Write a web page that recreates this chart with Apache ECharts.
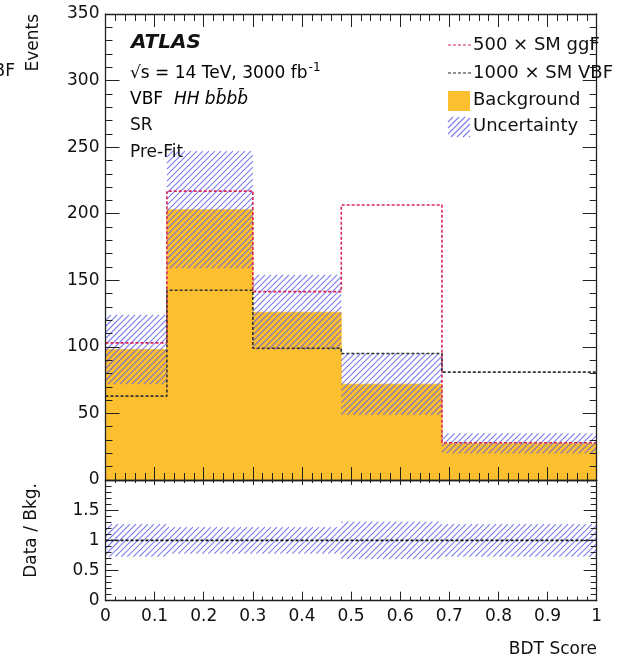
<!DOCTYPE html>
<html><head><meta charset="utf-8">
<script src="https://cdn.jsdelivr.net/npm/echarts@6/dist/echarts.min.js"></script>
<style>html,body{margin:0;padding:0;background:#fff}#c{width:620px;height:661px}</style>
</head><body><div id="c"></div>
<script>
// ---- data ----
const binEdges = [0, 0.125, 0.3, 0.48, 0.685, 1];
const background = [98, 203, 126, 72, 27.5];
const bkgUncertainty = [26, 44, 28, 23, 7.5];
const ggF500 = [103, 217, 141.5, 206.5, 28];
const vbf1000 = [63, 142.5, 99, 95, 81];
const ratioCentral = [1, 1, 1, 1, 1];
const ratioUncertainty = [0.27, 0.22, 0.22, 0.31, 0.27];
const mainYTicks = [0, 350, 50];
const ratioYTicks = [0, 2, 0.5];

// ---- styling helpers ----
const FONT = '"DejaVu Sans", "Liberation Sans", sans-serif';
const AX = '#222';
const ORANGE = '#fcbf2f';
const RED = '#d9245c';
const HATCH = '#5b5be6';
const HSTEP = 6;

// diagonal "/" hatch lines clipped to a pixel rectangle
function hatchLines(x0, y0, x1, y1, alpha) {
  const out = [];
  const cStart = Math.ceil((x0 + y0) / HSTEP) * HSTEP;
  for (let c = cStart; c <= x1 + y1; c += HSTEP) {
    const xa = Math.max(x0, c - y1), xb = Math.min(x1, c - y0);
    if (xb - xa > 0.3) {
      out.push({ type: 'line', shape: { x1: xa, y1: c - xa, x2: xb, y2: c - xb },
        style: { stroke: HATCH, lineWidth: 1.1, opacity: alpha } });
    }
  }
  return out;
}

const nb = background.length;
const bkgRects = background.map((v, i) => [binEdges[i], binEdges[i + 1], 0, v]);
const bandRects = background.map((v, i) => [binEdges[i], binEdges[i + 1], v - bkgUncertainty[i], v + bkgUncertainty[i]]);
const ratioRects = ratioCentral.map((v, i) => [binEdges[i], binEdges[i + 1], v - ratioUncertainty[i], v + ratioUncertainty[i]]);
function steps(vals) {
  const d = vals.map((v, i) => [binEdges[i], v]);
  d.push([binEdges[nb], vals[nb - 1]]);
  return d;
}
function solidRect(params, api) {
  const p0 = api.coord([api.value(0), api.value(3)]);
  const p1 = api.coord([api.value(1), api.value(2)]);
  return { type: 'rect', shape: { x: p0[0], y: p0[1], width: p1[0] - p0[0], height: p1[1] - p0[1] },
    style: { fill: ORANGE, stroke: ORANGE, lineWidth: 0.8 } };
}
function hatchRect(params, api) {
  const p0 = api.coord([api.value(0), api.value(3)]);
  const p1 = api.coord([api.value(1), api.value(2)]);
  return { type: 'group', children: hatchLines(p0[0], p0[1], p1[0], p1[1], 0.8) };
}

const GL = 105.5, GR = 620 - 596.7;
function xAx(grid, pos, showLabel, len, mlen) {
  return {
    type: 'value', gridIndex: grid, position: pos, min: 0, max: 1, interval: 0.1, z: 10,
    axisLine: { show: true, onZero: false, lineStyle: { color: AX, width: 1.3 } },
    axisTick: { show: true, inside: true, length: len, lineStyle: { color: AX, width: 1 } },
    minorTick: { show: true, splitNumber: 5, length: mlen, lineStyle: { color: AX, width: 1 } },
    splitLine: { show: false },
    axisLabel: { show: showLabel, color: '#111', fontFamily: FONT, fontSize: 17, margin: 7,
      formatter: v => String(+v.toFixed(1)) }
  };
}
function yAx(grid, pos, ticks, showLabel, len, mlen, fmt) {
  return {
    type: 'value', gridIndex: grid, position: pos, min: ticks[0], max: ticks[1], interval: ticks[2], z: 10,
    axisLine: { show: true, onZero: false, lineStyle: { color: AX, width: 1.3 } },
    axisTick: { show: true, inside: true, length: len, lineStyle: { color: AX, width: 1 } },
    minorTick: { show: true, splitNumber: 5, length: mlen, lineStyle: { color: AX, width: 1 } },
    splitLine: { show: false },
    axisLabel: { show: showLabel, color: '#111', fontFamily: FONT, fontSize: 17, margin: 6, formatter: fmt }
  };
}

const chart = echarts.init(document.getElementById('c'), null, { renderer: 'canvas' });
const txt = (x, y, text, extra) => ({
  type: 'text', x: x, y: y, z: 100,
  style: Object.assign({ text: text, font: '17px ' + FONT, fill: '#111', textAlign: 'left', align: 'left',
    textVerticalAlign: 'middle', verticalAlign: 'middle' }, extra || {})
});
const LEGF = '18px ' + FONT;

chart.setOption({
  animation: false,
  backgroundColor: '#fff',
  grid: [
    { left: GL, right: GR, top: 14, height: 466 },
    { left: GL, right: GR, top: 480, height: 120.7 }
  ],
  xAxis: [
    xAx(0, 'bottom', false, 13, 7),
    xAx(0, 'top', false, 13, 7),
    xAx(1, 'bottom', true, 9, 4),
    xAx(1, 'top', false, 5, 3)
  ],
  yAxis: [
    yAx(0, 'left', mainYTicks, true, 14, 7, v => String(v)),
    yAx(0, 'right', mainYTicks, false, 14, 7),
    yAx(1, 'left', ratioYTicks, true, 13, 6, v => (v === 2 ? '' : String(v))),
    yAx(1, 'right', ratioYTicks, false, 13, 6)
  ],
  series: [
    { type: 'custom', name: 'Background', xAxisIndex: 0, yAxisIndex: 0, z: 2,
      renderItem: solidRect, encode: { x: [0, 1], y: [2, 3] }, data: bkgRects },
    { type: 'custom', name: 'Uncertainty', xAxisIndex: 0, yAxisIndex: 0, z: 3,
      renderItem: hatchRect, encode: { x: [0, 1], y: [2, 3] }, data: bandRects },
    { type: 'line', name: '500 x SM ggF', xAxisIndex: 0, yAxisIndex: 0, z: 5, step: 'end', symbol: 'none',
      lineStyle: { color: RED, width: 1.6, type: [3, 2] }, data: steps(ggF500) },
    { type: 'line', name: '1000 x SM VBF', xAxisIndex: 0, yAxisIndex: 0, z: 6, step: 'end', symbol: 'none',
      lineStyle: { color: '#333', width: 1.6, type: [3, 2] }, data: steps(vbf1000) },
    { type: 'custom', name: 'Ratio uncertainty', xAxisIndex: 2, yAxisIndex: 2, z: 3,
      renderItem: hatchRect, encode: { x: [0, 1], y: [2, 3] }, data: ratioRects },
    { type: 'line', name: 'Ratio', xAxisIndex: 2, yAxisIndex: 2, z: 5, symbol: 'none',
      lineStyle: { color: '#111', width: 1.6, type: [3, 2] }, data: [[binEdges[0], 1], [binEdges[nb], 1]] }
  ],
  graphic: [
    // annotation
    txt(131, 43, 'ATLAS', { font: 'italic bold 20px ' + FONT }),
    {
      type: 'text', x: 130, y: 72, z: 100,
      style: { text: '{a|√s = 14 TeV, 3000 fb}{s|-1}', textVerticalAlign: 'middle', verticalAlign: 'middle',
        rich: { a: { fontFamily: FONT, fontSize: 17, color: '#111', verticalAlign: 'bottom' },
                s: { fontFamily: FONT, fontSize: 12, color: '#111', verticalAlign: 'bottom', padding: [0, 0, 8, 1] } } }
    },
    {
      type: 'text', x: 130, y: 100, z: 100,
      style: { text: '{a|VBF  }{i|HH bb\u0304bb\u0304}', textVerticalAlign: 'middle', verticalAlign: 'middle',
        rich: { a: { fontFamily: FONT, fontSize: 17, color: '#111' },
                i: { fontFamily: FONT, fontSize: 17, fontStyle: 'italic', color: '#111' } } }
    },
    txt(130, 126, 'SR'),
    txt(130, 153, 'Pre-Fit'),
    // legend
    { type: 'line', z: 100, shape: { x1: 448, y1: 45, x2: 471, y2: 45 }, style: { stroke: RED, lineWidth: 1, lineDash: [3, 2] } },
    { type: 'line', z: 100, shape: { x1: 448, y1: 73, x2: 471, y2: 73 }, style: { stroke: '#222', lineWidth: 1, lineDash: [3, 2] } },
    { type: 'rect', z: 100, shape: { x: 448, y: 91, width: 22, height: 20 }, style: { fill: ORANGE } },
    { type: 'group', z: 100, children: hatchLines(448, 117, 470, 137, 0.8) },
    txt(473, 45, '500 × SM ggF', { font: LEGF }),
    txt(473, 73, '1000 × SM VBF', { font: LEGF }),
    txt(473, 100, 'Background', { font: LEGF }),
    txt(473, 126, 'Uncertainty', { font: LEGF }),
    // axis titles
    txt(597, 650, 'BDT Score', { textAlign: 'right', align: 'right' }),
    { type: 'text', x: 34, y: 14, rotation: Math.PI / 2, z: 100,
      style: { text: 'Events', font: '17px ' + FONT, fill: '#111', textAlign: 'right', align: 'right', textVerticalAlign: 'middle', verticalAlign: 'middle' } },
    { type: 'text', x: 32, y: 483, rotation: Math.PI / 2, z: 100,
      style: { text: 'Data / Bkg.', font: '17px ' + FONT, fill: '#111', textAlign: 'right', align: 'right', textVerticalAlign: 'middle', verticalAlign: 'middle' } },
    txt(15, 72, 'VBF', { textAlign: 'right', align: 'right' })
  ]
});
</script>
</body></html>
